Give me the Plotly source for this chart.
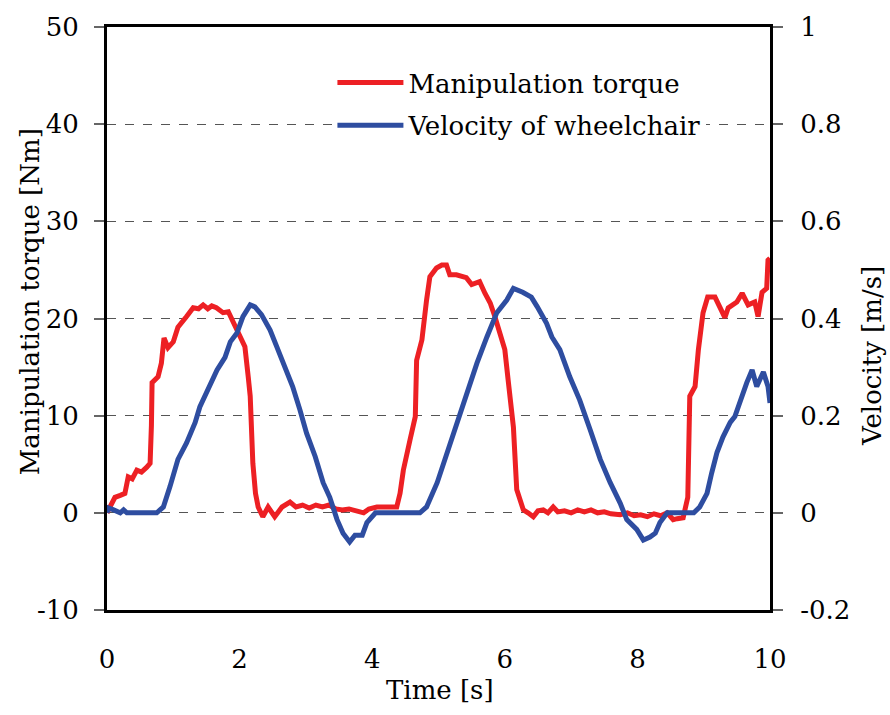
import plotly.graph_objects as go

# ---- data ----
torque_t = [0.0, 0.08, 0.12, 0.2, 0.27, 0.32, 0.38, 0.45, 0.52, 0.6, 0.65, 0.67, 0.68, 0.77, 0.82, 0.86, 0.92,
            1.0, 1.07, 1.2, 1.3, 1.38, 1.45, 1.52, 1.58, 1.65, 1.75, 1.83, 1.9, 2.0, 2.08, 2.13, 2.16, 2.2,
            2.24, 2.28, 2.35, 2.43, 2.53, 2.64, 2.76, 2.85, 2.95, 3.05, 3.15, 3.25, 3.35, 3.45, 3.55, 3.65,
            3.75, 3.87, 3.95, 4.07, 4.2, 4.37, 4.42, 4.47, 4.57, 4.65, 4.67, 4.75, 4.82, 4.87, 4.97, 5.05,
            5.12, 5.17, 5.27, 5.42, 5.5, 5.62, 5.7, 5.78, 5.85, 5.93, 6.0, 6.05, 6.13, 6.18, 6.28, 6.35,
            6.43, 6.5, 6.58, 6.65, 6.73, 6.8, 6.9, 7.0, 7.1, 7.2, 7.3, 7.4, 7.5, 7.6, 7.74, 7.85, 7.95,
            8.05, 8.15, 8.25, 8.35, 8.45, 8.54, 8.6, 8.69, 8.76, 8.79, 8.87, 8.92, 8.99, 9.06, 9.17, 9.25,
            9.32, 9.37, 9.5, 9.58, 9.67, 9.77, 9.82, 9.88, 9.95, 9.97, 10.0]
torque_nm = [0.0, 1.2, 1.6, 1.8, 2.0, 3.7, 3.5, 4.4, 4.2, 4.7, 5.1, 9.0, 13.4, 14.0, 15.4, 18.0, 17.0,
             17.6, 19.1, 20.2, 21.1, 21.0, 21.4, 21.0, 21.3, 21.1, 20.6, 20.7, 19.7, 18.5, 17.1, 14.0, 12.0, 5.1,
             2.0, 0.6, -0.4, 0.6, -0.4, 0.6, 1.1, 0.6, 0.8, 0.5, 0.8, 0.6, 0.8, 0.4, 0.3, 0.4,
             0.2, 0.0, 0.4, 0.6, 0.6, 0.6, 2.0, 4.4, 7.5, 9.9, 15.7, 17.8, 21.9, 24.3, 25.2, 25.5,
             25.5, 24.5, 24.5, 24.2, 23.5, 23.8, 22.6, 21.6, 20.2, 18.5, 16.8, 13.7, 8.8, 2.4, 0.3, 0.0,
             -0.4, 0.2, 0.3, 0.0, 0.6, 0.1, 0.2, 0.0, 0.3, 0.1, 0.3, 0.0, 0.1, -0.1, -0.2, 0.0, -0.3,
             -0.2, -0.4, -0.1, -0.3, 0.0, -0.7, -0.6, -0.5, 1.6, 12.0, 13.0, 16.8, 20.6, 22.2, 22.2, 21.2,
             20.1, 21.1, 21.7, 22.6, 21.4, 21.7, 20.2, 22.7, 23.1, 26.0, 26.2]

velocity_t = [0.0, 0.02, 0.1, 0.2, 0.25, 0.3, 0.75, 0.85, 0.95, 1.07, 1.2, 1.33, 1.4, 1.55, 1.66, 1.78,
              1.86, 1.96, 2.05, 2.16, 2.23, 2.33, 2.46, 2.56, 2.71, 2.8, 2.91, 3.01, 3.14, 3.26, 3.36,
              3.47, 3.56, 3.66, 3.74, 3.85, 3.92, 4.01, 4.05, 4.72, 4.82, 4.98, 5.13, 5.28, 5.43, 5.58,
              5.73, 5.88, 6.03, 6.13, 6.27, 6.4, 6.49, 6.63, 6.71, 6.83, 6.98, 7.13, 7.29, 7.44, 7.59,
              7.74, 7.84, 7.99, 8.09, 8.19, 8.27, 8.34, 8.45, 8.85, 8.94, 9.05, 9.12, 9.2, 9.29, 9.4,
              9.47, 9.55, 9.65, 9.73, 9.8, 9.9, 9.97, 10.0]
velocity_ms = [0.0, 0.01, 0.006, 0.0, 0.006, 0.0, 0.0, 0.012, 0.054, 0.11, 0.144, 0.186, 0.218, 0.26, 0.294, 0.32,
               0.352, 0.37, 0.404, 0.428, 0.424, 0.408, 0.376, 0.342, 0.288, 0.26, 0.212, 0.164, 0.116, 0.062, 0.032,
               -0.014, -0.042, -0.06, -0.046, -0.046, -0.02, -0.004, 0.0, 0.0, 0.012, 0.062, 0.124, 0.192, 0.254, 0.308,
               0.362, 0.412, 0.438, 0.462, 0.454, 0.444, 0.424, 0.39, 0.362, 0.336, 0.28, 0.232, 0.17, 0.11, 0.062,
               0.02, -0.014, -0.034, -0.056, -0.05, -0.042, -0.02, 0.0, 0.0, 0.012, 0.04, 0.082, 0.124, 0.156, 0.186,
               0.198, 0.232, 0.268, 0.294, 0.26, 0.29, 0.26, 0.226]

x_ticks = [0, 2, 4, 6, 8, 10]
x_ticktext = ["0", "2", "4", "6", "8", "10"]
y1_ticks = [-10, 0, 10, 20, 30, 40, 50]
y1_ticktext = ["-10", "0", "10", "20", "30", "40", "50"]
y2_ticks = [-0.2, 0, 0.2, 0.4, 0.6, 0.8, 1.0]
y2_ticktext = ["-0.2", "0", "0.2", "0.4", "0.6", "0.8", "1"]
zero_ticks = [2, 4, 6, 8]

FONT = "DejaVu Serif"
FS = 26
RED = "#ED2024"
BLUE = "#2E4DA0"

fig = go.Figure()
fig.add_trace(go.Scatter(x=torque_t, y=torque_nm, mode="lines", name="Manipulation torque",
                         legendgroup="a", line=dict(color=RED, width=5), xaxis="x", yaxis="y"))
fig.add_trace(go.Scatter(x=velocity_t, y=velocity_ms, mode="lines", name="Velocity of wheelchair",
                         legendgroup="b", line=dict(color=BLUE, width=5), xaxis="x", yaxis="y2"))

fig.update_layout(
    width=890, height=715,
    margin=dict(l=107, r=120, t=27, b=105),
    paper_bgcolor="white", plot_bgcolor="white",
    font=dict(family=FONT, size=FS, color="black"),
    xaxis=dict(range=[0, 10], tickvals=x_ticks, ticktext=x_ticktext, showgrid=False, zeroline=False,
               showline=True, linecolor="black", linewidth=3, mirror=True, ticks="",
               ticklabelstandoff=24),
    xaxis2=dict(range=[0, 10], overlaying="x", anchor="free", position=10 / 60, side="bottom",
                tickvals=zero_ticks, ticks="inside", ticklen=8, tickwidth=1.2, tickcolor="#444",
                showticklabels=False, showgrid=False, zeroline=False,
                showline=True, linecolor="#444", linewidth=1.5, layer="below traces"),
    yaxis=dict(range=[-10, 50], tickvals=y1_ticks, ticktext=y1_ticktext, ticks="outside", ticklen=10,
               tickwidth=1.5, tickcolor="#666", showline=True, linecolor="black", linewidth=3,
               showgrid=True, gridcolor="#555", gridwidth=1, griddash="dash", zeroline=False,
               ticklabelstandoff=10),
    yaxis2=dict(range=[-0.2, 1.0], overlaying="y", side="right", tickvals=y2_ticks, ticktext=y2_ticktext,
                ticks="outside", ticklen=10, tickwidth=1.5, tickcolor="#666", showline=True,
                linecolor="black", linewidth=3, showgrid=False, zeroline=False, ticklabelstandoff=12),
    legend=dict(x=0.34, y=0.945, xanchor="left", yanchor="top", bgcolor="white",
                font=dict(family=FONT, size=FS), tracegroupgap=6, traceorder="grouped",
                itemwidth=66),
    showlegend=True,
    annotations=[
        dict(text="Manipulation torque [Nm]", xref="paper", yref="paper", x=-0.116, y=0.528,
             xanchor="center", yanchor="middle", textangle=-90, showarrow=False,
             font=dict(family=FONT, size=FS)),
        dict(text="Velocity [m/s]", xref="paper", yref="paper", x=1.154, y=0.436,
             xanchor="center", yanchor="middle", textangle=-90, showarrow=False,
             font=dict(family=FONT, size=FS)),
        dict(text="Time [s]", xref="paper", yref="paper", x=0.502, y=-0.137,
             xanchor="center", yanchor="middle", showarrow=False, font=dict(family=FONT, size=FS)),
    ],
)

fig.write_html("out.html")
